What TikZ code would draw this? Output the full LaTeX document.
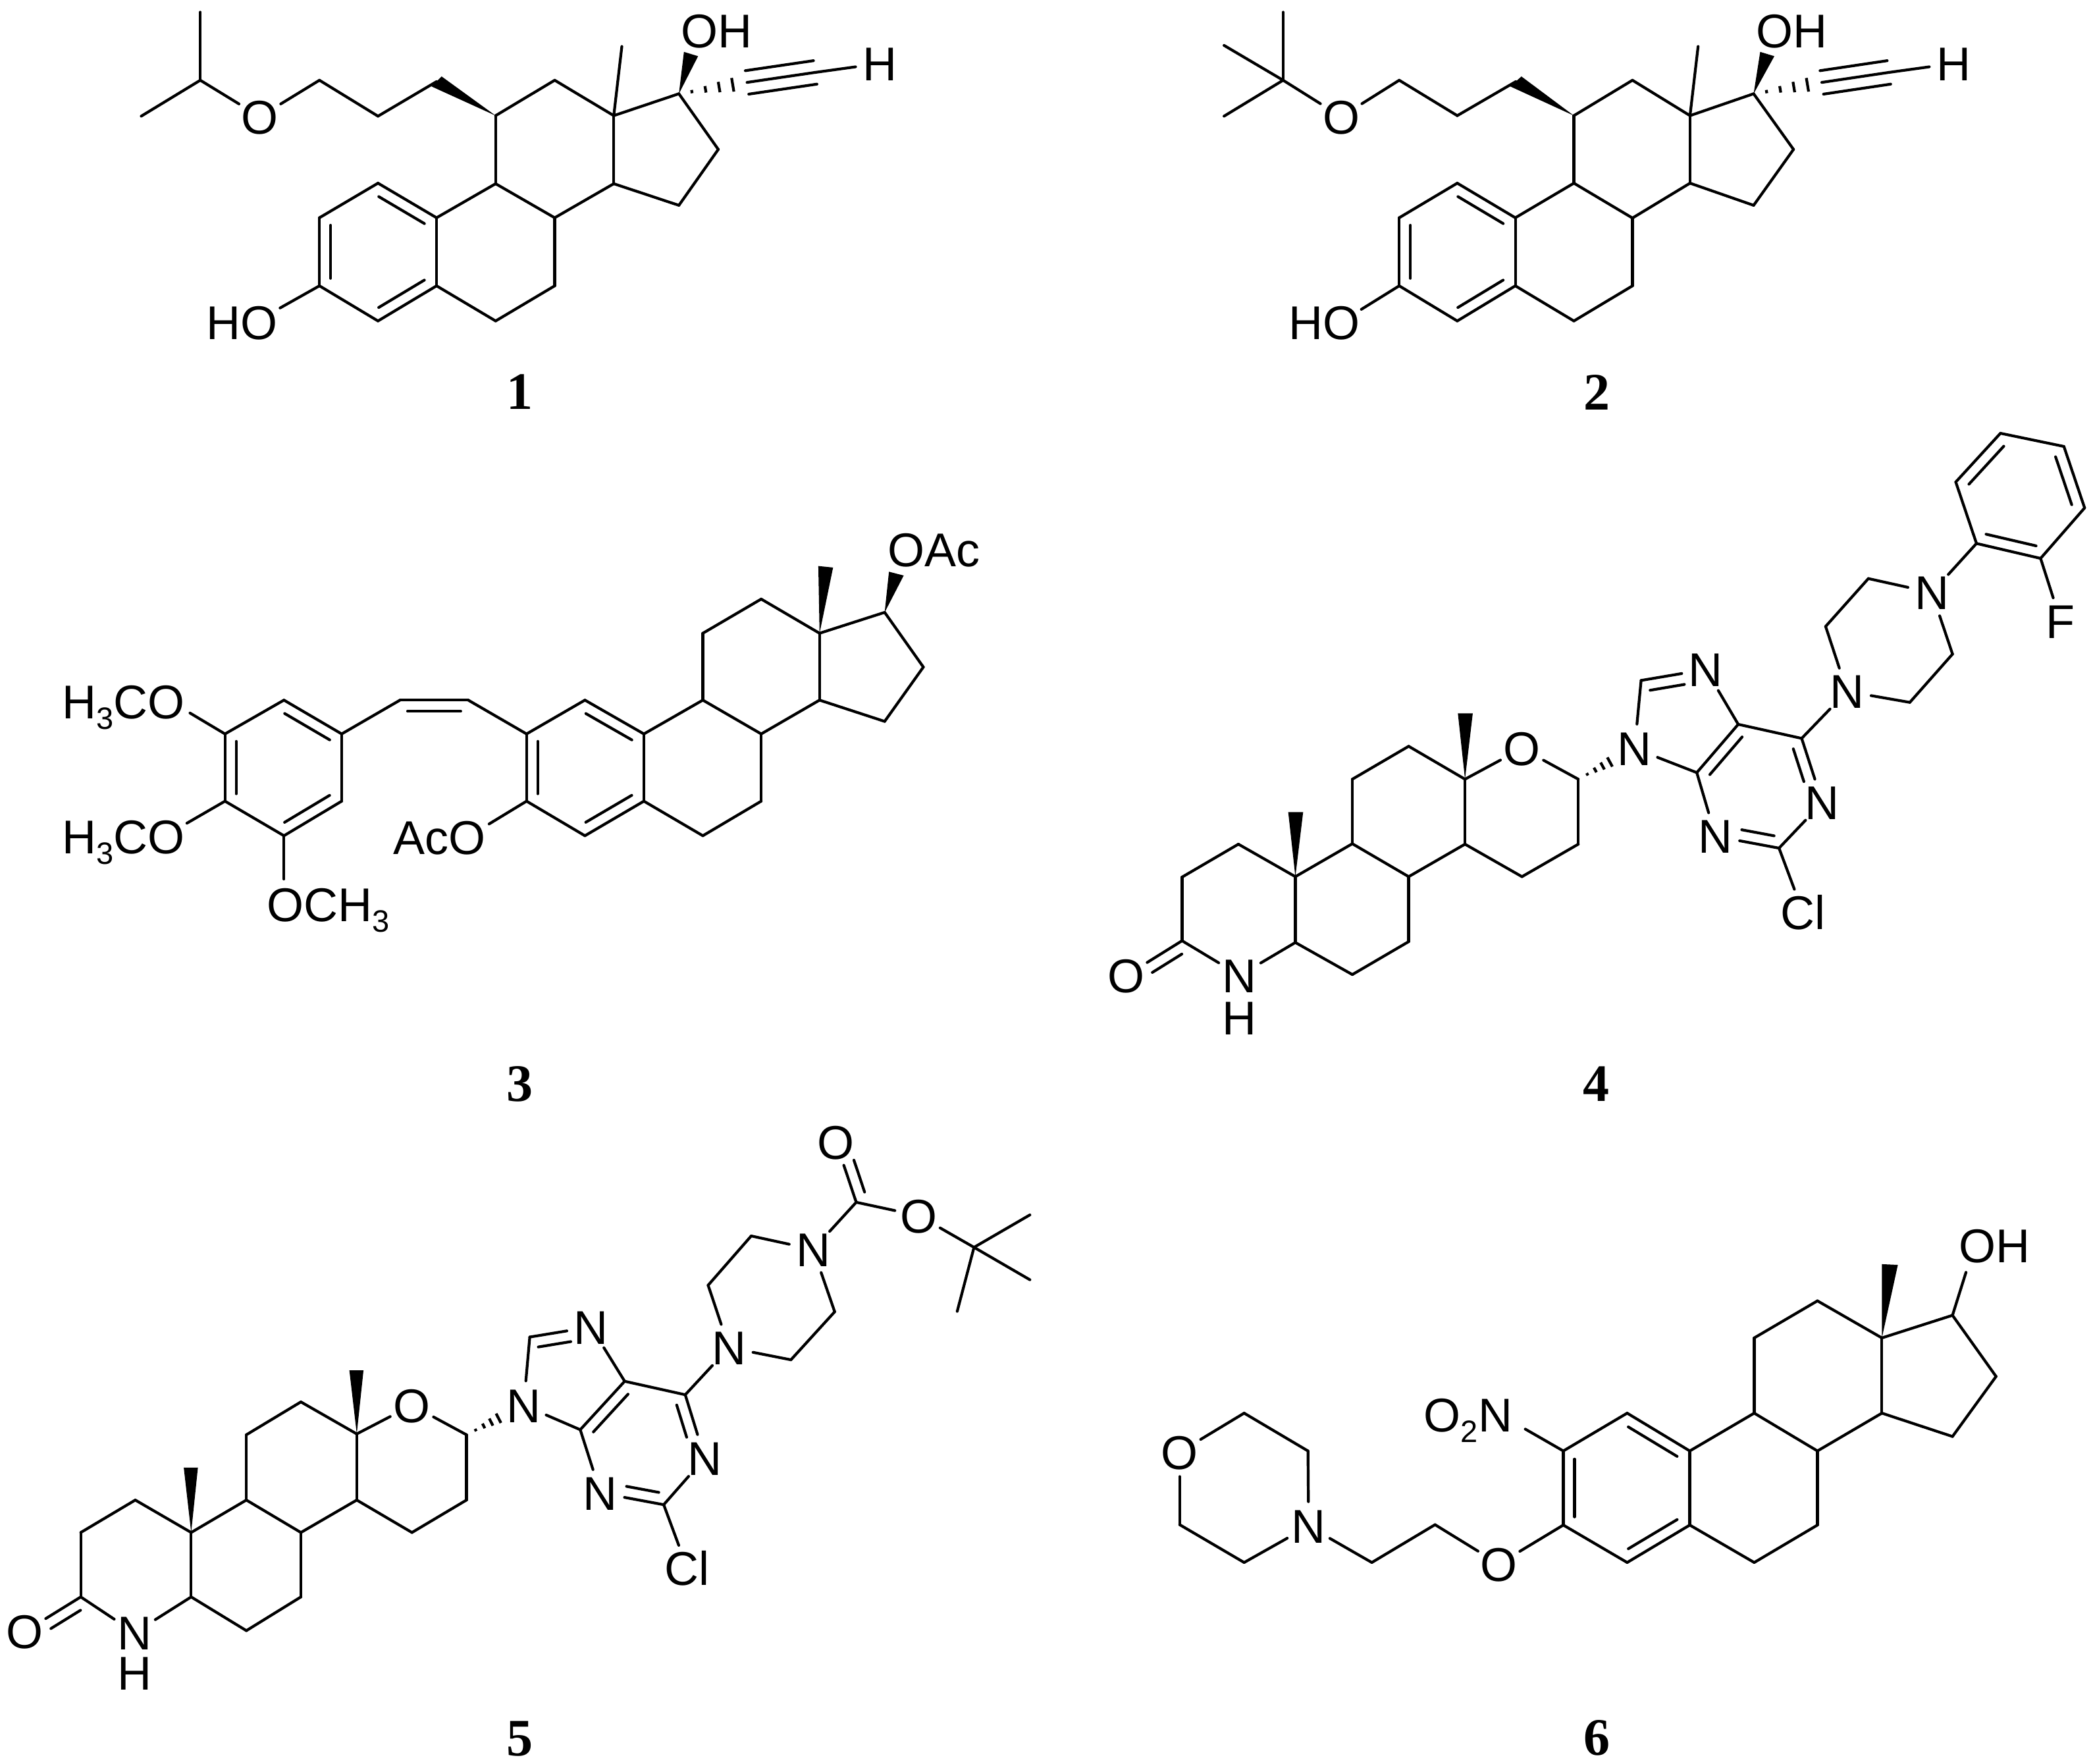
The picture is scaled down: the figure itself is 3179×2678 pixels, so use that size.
\documentclass[tikz,border=0pt]{standalone}
\usepackage{fontspec}
\setmainfont{Liberation Sans}
\newfontfamily\numf{Liberation Serif}
\usetikzlibrary{calc}
\newcommand\lbl[1]{\raisebox{-.36em}[0pt][0pt]{\makebox[0pt]{#1}}}
\newcommand\subs[1]{\raisebox{-.22em}{\fontsize{47}{47}\selectfont #1}}
\tikzset{
  bond/.style={line width=4.2pt,line cap=round,line join=round,black},
  atom/.style={circle,inner sep=0pt,minimum size=74pt,font=\fontsize{72}{72}\selectfont},
  grp/.style={inner sep=0pt,font=\fontsize{72}{72}\selectfont},
  num/.style={inner sep=0pt,font=\fontsize{80}{80}\selectfont\numf\bfseries}
}
% coordinates: prefix, list name/x/y
\newcommand\Cs[2]{\foreach \n/\x/\y in {#2}{\coordinate (#1\n) at (\x,\y);}}
% bonds: prefix, list a/b
\newcommand\Bs[2]{\foreach \a/\b in {#2}{\draw[bond] (#1\a) -- (#1\b);}}
% inner line of a double bond: [end fraction]{a}{b}{side angle}
\newcommand\dbl[4][.11]{\draw[bond] ($(#2)!.11!(#3)!17pt!#4:(#3)$) -- ($(#3)!#1!(#2)!17pt!-#4:(#2)$);}
% wedge: tip, two wide-end points
\newcommand\Wdg[3]{\fill[black] (#1) -- (#2) -- (#3) -- cycle;}
% hashed bond: a, b, list t/halfwidth
\newcommand\Hsh[3]{\foreach \t/\w in {#3}{\draw[bond,line cap=butt] ($(#1)!\t!(#2)!\w pt!90:(#2)$) -- ($(#1)!\t!(#2)!\w pt!-90:(#2)$);}}
% triple bond side lines
\newcommand\Trp[2]{\draw[bond] (#1) -- (#2);
  \draw[bond] ($(#1)!18pt!90:(#2)$) -- ($(#2)!18pt!-90:(#1)$);
  \draw[bond] ($(#1)!18pt!-90:(#2)$) -- ($(#2)!18pt!90:(#1)$);}
\begin{document}
\begin{tikzpicture}[x=1pt,y=-1pt]
\useasboundingbox (0,0) rectangle (3179,2678);
\fill[white] (0,0) rectangle (3179,2678);

% ===== 1 =====
\begin{scope}[shift={(180,0)},x=.7668pt,y=-.4103pt]
\Cs{m1}{me1/162/45,ch/162/297,me2/45/430,c1/398/297,c2/514/430,c3/630/302,c11/747/428,c12/864/297,c13/981/428,c14/981/680,c8/864/806,c9/747/680,me/997/172,c17/1110/347,c16/1188/553,c15/1110/760,a10/630/806,a1/514/678,a2/398/806,a3/398/1058,a4/514/1188,a5/630/1058,c6/747/1188,c7/864/1058,e1/1245/305,e2/1380/268,hoend/320/1140,wa/640/283,wb/620/320,wc/1120/192,wd/1148/208}
\node[atom] (m1o) at (280,432) {\lbl{O}};
\node[atom] (m1h) at (1508,235) {\lbl{H}};
\node[grp] (m1oh) at (1185,113) {\lbl{OH}};
\node[grp] (m1ho) at (245,1192) {\lbl{HO}};
\node[num] (m1lab) at (795,1445) {\lbl{1}};
\Bs{m1}{ch/me1,ch/me2,ch/o,o/c1,c1/c2,c2/c3,c11/c12,c12/c13,c13/c14,c14/c8,c8/c9,c9/c11,c13/me,c13/c17,c17/c16,c16/c15,c15/c14,c9/a10,a10/a1,a1/a2,a2/a3,a3/a4,a4/a5,a5/a10,a5/c6,c6/c7,c7/c8,a3/hoend,e2/h}
\dbl{m1a1}{m1a10}{-90}\dbl{m1a5}{m1a4}{-90}\dbl{m1a3}{m1a2}{-90}
\Wdg{m1c11}{m1wa}{m1wb}\Wdg{m1c17}{m1wc}{m1wd}
\Hsh{m1c17}{m1e1}{.19/2.5,.39/5,.59/8,.79/10.5}
\Trp{m1e1}{m1e2}
\end{scope}

% ===== 2 =====
\begin{scope}[shift={(1830,0)},x=.7668pt,y=-.4103pt]
\Cs{m2}{me1/155/45,ch/155/297,me2/38/430,me3/38/168,c1/385/297,c2/500/428,c3/616/302,c11/731/428,c12/847/297,c13/961/428,c14/961/678,c8/847/807,c9/731/678,me/977/172,c17/1087/347,c16/1166/553,c15/1087/760,a10/615/806,a1/500/678,a2/385/806,a3/385/1058,a4/500/1188,a5/615/1058,c6/731/1188,c7/847/1058,e1/1222/305,e2/1355/268,hoend/310/1145,wa/627/283,wb/605/320,wc/1100/192,wd/1128/208}
\node[atom] (m2o) at (270,432) {\lbl{O}};
\node[atom] (m2h) at (1483,235) {\lbl{H}};
\node[grp] (m2oh) at (1162,113) {\lbl{OH}};
\node[grp] (m2ho) at (237,1192) {\lbl{HO}};
\node[num] (m2lab) at (777,1447) {\lbl{2}};
\Bs{m2}{ch/me1,ch/me2,ch/me3,ch/o,o/c1,c1/c2,c2/c3,c11/c12,c12/c13,c13/c14,c14/c8,c8/c9,c9/c11,c13/me,c13/c17,c17/c16,c16/c15,c15/c14,c9/a10,a10/a1,a1/a2,a2/a3,a3/a4,a4/a5,a5/a10,a5/c6,c6/c7,c7/c8,a3/hoend,e2/h}
\dbl{m2a1}{m2a10}{-90}\dbl{m2a5}{m2a4}{-90}\dbl{m2a3}{m2a2}{-90}
\Wdg{m2c11}{m2wa}{m2wb}\Wdg{m2c17}{m2wc}{m2wd}
\Hsh{m2c17}{m2e1}{.19/2.5,.39/5,.59/8,.79/10.5}
\Trp{m2e1}{m2e2}
\end{scope}

% ===== 3 =====
\begin{scope}[shift={(60,780)},x=.9329pt,y=-.5769pt]
\Cs{m3}{p1/302/580,p2/398/491,p3/492/580,p4/492/757,p5/398/848,p6/302/757,v1/587/491,v2/698/491,r1/793/580,r2/888/491,r3/984/580,r4/984/757,r5/888/848,r6/793/757,c9/1080/491,c11/1080/315,c12/1175/225,c13/1270/315,c14/1270/491,c8/1175/580,c7/1175/757,c6/1080/848,c17/1376/260,c16/1439/404,c15/1376/547,e1/245/525,e2/240/815,e3/398/962,e4/732/817,wa/1268/138,wb/1292/142,wc/1383/153,wd/1407/163}
\node[grp] (m3a) at (137,495) {\lbl{H\subs{3}CO}};
\node[grp] (m3b) at (137,850) {\lbl{H\subs{3}CO}};
\node[grp] (m3c) at (470,1029) {\lbl{OCH\subs{3}}};
\node[grp] (m3d) at (651,852) {\lbl{AcO}};
\node[grp] (m3e) at (1456,94) {\lbl{OAc}};
\node[num] (m3lab) at (782,1497) {\lbl{3}};
\Bs{m3}{p1/p2,p2/p3,p3/p4,p4/p5,p5/p6,p6/p1,p3/v1,v1/v2,v2/r1,r1/r2,r2/r3,r3/r4,r4/r5,r5/r6,r6/r1,r3/c9,c9/c11,c11/c12,c12/c13,c13/c14,c14/c8,c8/c9,c8/c7,c7/c6,c6/r4,c13/c17,c17/c16,c16/c15,c15/c14,p1/e1,p6/e2,p5/e3,r6/e4}
\dbl{m3p2}{m3p3}{-90}\dbl{m3p4}{m3p5}{-90}\dbl{m3p6}{m3p1}{-90}
\dbl{m3r2}{m3r3}{-90}\dbl{m3r4}{m3r5}{-90}\dbl{m3r6}{m3r1}{-90}
\dbl{m3v1}{m3v2}{-90}
\Wdg{m3c13}{m3wa}{m3wb}\Wdg{m3c17}{m3wc}{m3wd}
\end{scope}

% ===== 4 =====
\begin{scope}[shift={(1640,640)},x=.9834pt,y=-.6667pt]
\Cs{m4}{co/158/1183,k1/158/1038,k2/245/963,c10/333/1037,c5/333/1187,b1/421/962,b2/508/1037,b3/508/1185,b4/421/1260,b5/421/815,b6/508/740,b7/595/815,b8/595/963,d1/770/815,d2/770/963,d3/683/1037,pc4/953/800,pc5/1017/690,pc6/1115/722,pc2/1080/972,pc8/867/590,q1/1152/467,q2/1218/358,q3/1348/530,q4/1282/640,f1/1385/278,f2/1353/138,f3/1422/27,f4/1520/57,f5/1552/197,f6/1484/312,wa/322/890,wb/345/890,wc/584/665,wd/607/665}
\node[atom] (m4oc) at (72,1262) {\lbl{O}};
\node[atom] (m4n) at (247,1262) {\lbl{N}};
\node[grp] (m4nh) at (247,1358) {\lbl{H}};
\node[atom] (m4o) at (683,745) {\lbl{O}};
\node[atom] (m4n9) at (857,745) {\lbl{N}};
\node[atom] (m4n7) at (967,565) {\lbl{N}};
\node[atom] (m4n1) at (1147,868) {\lbl{N}};
\node[atom] (m4n3) at (982,945) {\lbl{N}};
\node[atom] (m4cl) at (1117,1118) {\lbl{Cl}};
\node[atom] (m4pa) at (1185,615) {\lbl{N}};
\node[atom] (m4pb) at (1316,390) {\lbl{N}};
\node[atom] (m4fl) at (1515,455) {\lbl{F}};
\node[num] (m4lab) at (798,1505) {\lbl{4}};
\Bs{m4}{co/oc,co/k1,k1/k2,k2/c10,c10/c5,c5/n,n/co,c10/b1,b1/b2,b2/b3,b3/b4,b4/c5,b1/b5,b5/b6,b6/b7,b7/b8,b8/b2,b7/o,o/d1,d1/d2,d2/d3,d3/b8,n9/pc8,pc8/n7,n7/pc5,pc5/pc4,pc4/n9,pc5/pc6,pc6/n1,n1/pc2,pc2/n3,n3/pc4,pc2/cl,pc6/pa,pa/q1,q1/q2,q2/pb,pb/q3,q3/q4,q4/pa,pb/f1,f1/f2,f2/f3,f3/f4,f4/f5,f5/f6,f6/f1,f6/fl}
\dbl[.36]{m4co}{m4oc}{90}
\dbl[.36]{m4pc8}{m4n7}{-90}\dbl[.38]{m4pc6}{m4n1}{-90}\dbl[.38]{m4pc2}{m4n3}{-90}\dbl{m4pc4}{m4pc5}{-90}
\dbl{m4f2}{m4f3}{-90}\dbl{m4f4}{m4f5}{-90}\dbl{m4f6}{m4f1}{-90}
\Wdg{m4c10}{m4wa}{m4wb}\Wdg{m4b7}{m4wc}{m4wd}
\Hsh{m4d1}{m4n9}{.16/2,.3/4,.43/6,.56/8}
\end{scope}

% ===== 5 =====
\begin{scope}[shift={(0,1680)},x=1.0224pt,y=-.6397pt]
\Cs{m5}{co/120/1165,k1/120/1012,k2/201/935,c10/284/1012,c5/284/1165,b1/366/935,b2/447/1012,b3/447/1165,b4/366/1245,b5/366/780,b6/447/702,b7/530/778,b8/530/935,d1/693/780,d2/693/935,d3/612/1012,pc4/862/768,pc5/928/653,pc6/1018/685,pc2/986/946,pc8/787/548,q1/1052/425,q2/1116/308,q3/1240/488,q4/1175/602,bc/1272/228,t/1447/335,t1/1530/258,t2/1530/412,t3/1422/487,wa/273/858,wb/294/858,wc/519/627,wd/540/627}
\node[atom] (m5oc) at (37,1247) {\lbl{O}};
\node[atom] (m5n) at (200,1250) {\lbl{N}};
\node[grp] (m5nh) at (200,1345) {\lbl{H}};
\node[atom] (m5o) at (612,710) {\lbl{O}};
\node[atom] (m5n9) at (778,710) {\lbl{N}};
\node[atom] (m5n7) at (878,524) {\lbl{N}};
\node[atom] (m5n1) at (1047,835) {\lbl{N}};
\node[atom] (m5n3) at (892,918) {\lbl{N}};
\node[atom] (m5cl) at (1021,1097) {\lbl{Cl}};
\node[atom] (m5pa) at (1083,573) {\lbl{N}};
\node[atom] (m5pb) at (1208,340) {\lbl{N}};
\node[atom] (m5ob) at (1242,85) {\lbl{O}};
\node[atom] (m5oe) at (1365,260) {\lbl{O}};
\node[num] (m5lab) at (772,1497) {\lbl{5}};
\Bs{m5}{co/oc,co/k1,k1/k2,k2/c10,c10/c5,c5/n,n/co,c10/b1,b1/b2,b2/b3,b3/b4,b4/c5,b1/b5,b5/b6,b6/b7,b7/b8,b8/b2,b7/o,o/d1,d1/d2,d2/d3,d3/b8,n9/pc8,pc8/n7,n7/pc5,pc5/pc4,pc4/n9,pc5/pc6,pc6/n1,n1/pc2,pc2/n3,n3/pc4,pc2/cl,pc6/pa,pa/q1,q1/q2,q2/pb,pb/q3,q3/q4,q4/pa,pb/bc,bc/ob,bc/oe,oe/t,t/t1,t/t2,t/t3}
\dbl[.36]{m5co}{m5oc}{90}\dbl[.36]{m5bc}{m5ob}{-90}
\dbl[.36]{m5pc8}{m5n7}{-90}\dbl[.38]{m5pc6}{m5n1}{-90}\dbl[.38]{m5pc2}{m5n3}{-90}\dbl{m5pc4}{m5pc5}{-90}
\Wdg{m5c10}{m5wa}{m5wb}\Wdg{m5b7}{m5wc}{m5wd}
\Hsh{m5d1}{m5n9}{.16/2,.3/4,.43/6,.56/8}
\end{scope}

% ===== 6 =====
\begin{scope}[shift={(1720,1800)},x=.9323pt,y=-.5628pt]
\Cs{m6}{g1/182/615,g2/286/717,g3/182/1018,g4/77/916,h1/390/1018,h2/493/916,r1/702/717,r2/806/615,r3/908/717,r4/908/917,r5/806/1018,r6/702/917,c9/1013/615,c11/1013/412,c12/1116/312,c13/1221/412,c14/1221/615,c8/1116/717,c7/1116/917,c6/1013/1018,c17/1336/351,c16/1407/516,c15/1336/678,e1/640/658,e2/1358/235,wa/1221/213,wb/1247/215}
\node[atom] (m6om) at (77,720) {\lbl{O}};
\node[atom] (m6n) at (287,920) {\lbl{N}};
\node[atom] (m6o) at (597,1022) {\lbl{O}};
\node[grp] (m6no) at (547,619) {\lbl{O\subs{2}N}};
\node[grp] (m6oh) at (1405,163) {\lbl{OH}};
\node[num] (m6lab) at (757,1487) {\lbl{6}};
\Bs{m6}{om/g1,g1/g2,g2/n,n/g3,g3/g4,g4/om,n/h1,h1/h2,h2/o,o/r6,r1/r2,r2/r3,r3/r4,r4/r5,r5/r6,r6/r1,r1/e1,r3/c9,c9/c11,c11/c12,c12/c13,c13/c14,c14/c8,c8/c9,c8/c7,c7/c6,c6/r4,c13/c17,c17/c16,c16/c15,c15/c14,c17/e2}
\dbl{m6r2}{m6r3}{-90}\dbl{m6r4}{m6r5}{-90}\dbl{m6r6}{m6r1}{-90}
\Wdg{m6c13}{m6wa}{m6wb}
\end{scope}
\end{tikzpicture}
\end{document}
